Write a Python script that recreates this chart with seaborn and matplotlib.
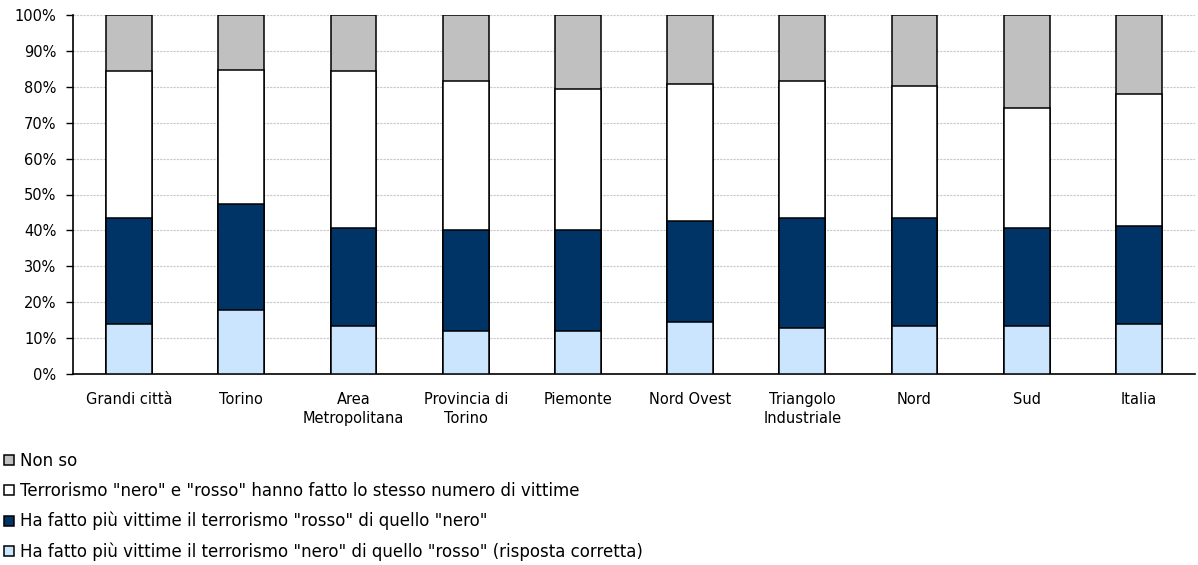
import matplotlib
matplotlib.use("Agg")
import matplotlib.pyplot as plt
import seaborn as sns
import numpy as np
import pandas as pd
from matplotlib.lines import Line2D

categories = ["Grandi città", "Torino", "Area\nMetropolitana", "Provincia di\nTorino",
              "Piemonte", "Nord Ovest", "Triangolo\nIndustriale", "Nord", "Sud", "Italia"]
nero_correct = [14.0, 17.7, 13.3, 12.1, 12.1, 14.4, 12.7, 13.3, 13.3, 14.0]
rosso_more = [29.5, 29.7, 27.3, 28.1, 28.1, 28.1, 30.8, 30.2, 27.3, 27.2]
same = [40.8, 37.3, 43.7, 41.4, 39.1, 38.4, 38.1, 36.8, 33.6, 36.9]
non_so = [15.7, 15.3, 15.7, 18.4, 20.7, 19.1, 18.4, 19.7, 25.8, 21.9]

labels = ["Non so",
          'Terrorismo "nero" e "rosso" hanno fatto lo stesso numero di vittime',
          'Ha fatto più vittime il terrorismo "rosso" di quello "nero"',
          'Ha fatto più vittime il terrorismo "nero" di quello "rosso" (risposta corretta)']
colors = ["#C0C0C0", "#FFFFFF", "#003366", "#CCE5FF"]

sns.set_theme(style="white")
plt.rcParams['font.family'] = ['DejaVu Sans']
plt.rcParams['text.color'] = 'black'

df = pd.DataFrame({"cat": categories, "nero": nero_correct, "rosso": rosso_more,
                   "same": same, "nonso": non_so})
c1 = df["nero"]
c2 = c1 + df["rosso"]
c3 = c2 + df["same"]
c4 = c3 + df["nonso"]

fig = plt.figure(figsize=(11.98, 5.65), dpi=100)
ax = fig.add_axes([73/1198, 1-374/565, (1195-73)/1198, (374-15)/565])

width = 0.407
for vals, col in zip([c4, c3, c2, c1], colors):
    sns.barplot(x=df["cat"], y=vals, color=col, width=width, ax=ax,
                edgecolor="black", linewidth=1.1, saturation=1, zorder=3)

ax.set_xlim(-0.5, len(categories) - 0.5)
ax.set_ylim(0, 100)
ax.set_yticks(np.arange(0, 101, 10))
ax.set_yticklabels([f"{v}%" for v in range(0, 101, 10)], fontsize=10.5)
ax.set_xticks(np.arange(len(categories)))
ax.set_xticklabels(categories, fontsize=10.5, linespacing=1.35, va="top")
ax.set_xticks(np.arange(-0.5, len(categories), 1.0), minor=True)
ax.tick_params(axis="x", which="major", length=0, pad=13)
ax.tick_params(axis="x", which="minor", length=4, width=1, color="black", direction="out")
ax.tick_params(axis="y", which="major", length=5, width=1, color="black", direction="out",
               pad=7, left=True)
ax.set_xlabel("")
ax.set_ylabel("")
ax.yaxis.grid(True, linestyle=(0, (2, 1)), color="#C8C8C8", linewidth=0.8, zorder=0)
ax.xaxis.grid(False)
ax.set_axisbelow(True)
for s in ["top", "right"]:
    ax.spines[s].set_visible(False)
for s in ["left", "bottom"]:
    ax.spines[s].set_color("black")
    ax.spines[s].set_linewidth(1.2)
for lbl in ax.get_xticklabels() + ax.get_yticklabels():
    lbl.set_color("black")

handles = [Line2D([0], [0], marker="s", linestyle="none", markersize=7.5,
                  markerfacecolor=c, markeredgecolor="black", markeredgewidth=1.1)
           for c in colors]
leg = fig.legend(handles, labels, loc="upper left", bbox_to_anchor=(1/1198, 1-452/565),
                 frameon=False, fontsize=12, handletextpad=0.15, handlelength=1.0,
                 labelspacing=0.72, borderaxespad=0, borderpad=0)
for t in leg.get_texts():
    t.set_color("black")

fig.savefig("out.png", dpi=100)
